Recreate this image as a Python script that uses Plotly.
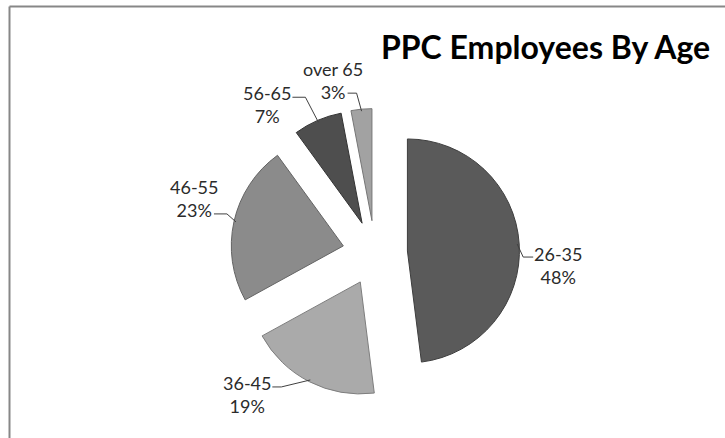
import math
import plotly.graph_objects as go

# ---- data ----
categories = ["26-35", "36-45", "46-55", "56-65", "over 65"]
percent_values = [48, 19, 23, 7, 3]
title_text = "PPC Employees By Age"

# ---- style / layout constants ----
W, H = 725, 438
slice_colors = ["#5a5a5a", "#aaaaaa", "#8b8b8b", "#4e4e4e", "#a2a2a2"]
edge_colors = ["#3e3e3e", "#7e7e7e", "#646464", "#333333", "#767676"]
center_px = (375, 253)      # pie centre in pixels
radius_px = 112
pull_frac = 0.29
label_font = dict(family="Lato, Carlito, sans-serif", size=18, color="#2b2b2b")
# label centre relative to leader anchor point on the arc (px)
label_offsets = [(41, 21), (-63, 15), (-42, -23), (-51, -18), (-29, -31)]
# leader attach point on the label relative to label centre (px)
attach_offsets = [(-25, -8), (25, -8), (20, 15), (25, -7), (15, 13)]
elbow_len = [10, 9, 13, 13, 9]


def px(x):
    return x / W


def py(y):
    return 1 - y / H


box_half = radius_px * (1 + pull_frac)
dom_x = [px(center_px[0] - box_half), px(center_px[0] + box_half)]
dom_y = [py(center_px[1] + box_half), py(center_px[1] - box_half)]

fig = go.Figure()
fig.add_trace(go.Pie(
    labels=categories,
    values=percent_values,
    sort=False,
    direction="clockwise",
    rotation=0,
    pull=[pull_frac] * len(percent_values),
    marker=dict(colors=slice_colors, line=dict(color=edge_colors, width=1)),
    textinfo="none",
    hoverinfo="label+percent",
    showlegend=False,
    domain=dict(x=dom_x, y=dom_y),
))

total = sum(percent_values)
shapes = []
annotations = []
cum = 0
for i, (cat, v) in enumerate(zip(categories, percent_values)):
    mid = 2 * math.pi * (cum + v / 2) / total
    cum += v
    dx, dy = math.sin(mid), -math.cos(mid)
    reach = radius_px * (1 + pull_frac) - 2
    P = (center_px[0] + reach * dx, center_px[1] + reach * dy)
    L = (P[0] + label_offsets[i][0], P[1] + label_offsets[i][1])
    A = (L[0] + attach_offsets[i][0], L[1] + attach_offsets[i][1])
    side = 1 if attach_offsets[i][0] > 0 else -1
    E = (A[0] + side * elbow_len[i], A[1])
    pct = round(100 * v / total)
    annotations.append(dict(
        x=px(L[0]), y=py(L[1]), xref="paper", yref="paper",
        text=f"{cat}<br>{pct}%", showarrow=False,
        xanchor="center", yanchor="middle", align="center",
        font=label_font,
    ))
    shapes.append(dict(
        type="path", xref="paper", yref="paper",
        path=f"M {px(A[0])} {py(A[1])} L {px(E[0])} {py(E[1])} L {px(P[0])} {py(P[1])}",
        line=dict(color="#404040", width=1),
    ))

# chart border: only the top and left edges are inside the picture
border = dict(color="#878787", width=2)
shapes.append(dict(type="line", xref="paper", yref="paper",
                   x0=px(9.5), x1=1.0, y0=py(6.5), y1=py(6.5),
                   line=border, layer="below"))
shapes.append(dict(type="line", xref="paper", yref="paper",
                   x0=px(9.5), x1=px(9.5), y0=0.0, y1=py(6.5),
                   line=border, layer="below"))

annotations.append(dict(
    x=px(545), y=py(46), xref="paper", yref="paper", text=f"<b>{title_text}</b>",
    showarrow=False, xanchor="center", yanchor="middle",
    font=dict(family="Lato, Carlito, sans-serif", size=32, color="#000000"),
))

fig.update_layout(
    width=W, height=H, autosize=False,
    margin=dict(l=0, r=0, t=0, b=0),
    paper_bgcolor="white", plot_bgcolor="white",
    shapes=shapes, annotations=annotations,
)
fig.write_html(
    "out.html",
    config={"displayModeBar": False},
    post_script="document.body.style.margin='0';document.body.style.overflow='hidden';",
)
